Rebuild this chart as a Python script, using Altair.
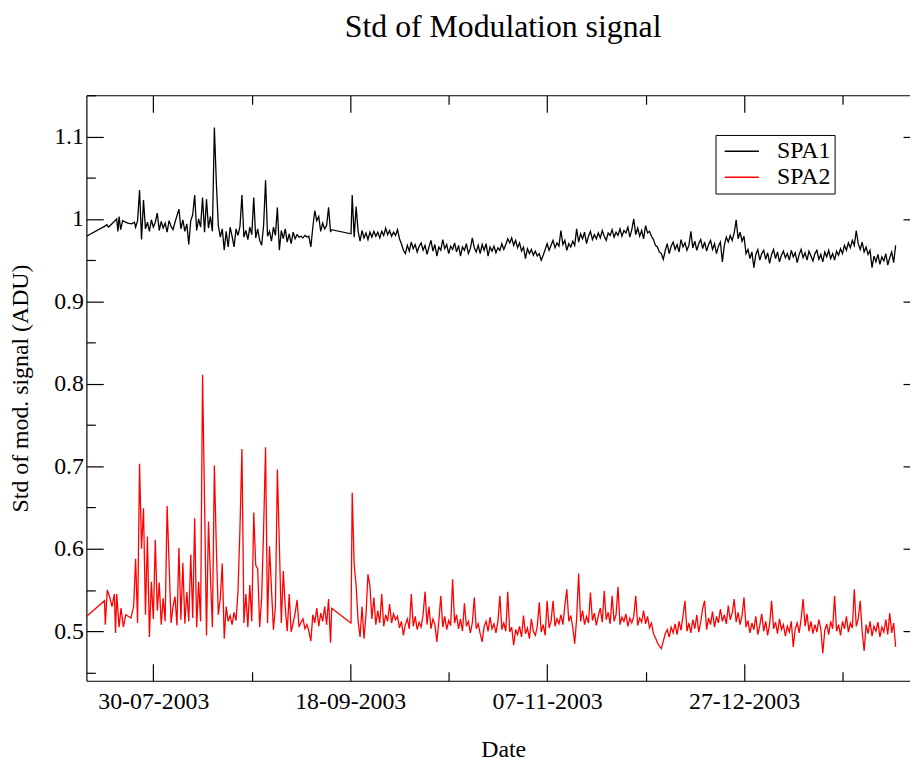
import altair as alt
import pandas as pd

FONT = "Liberation Serif"
START = pd.Timestamp("2003-07-13")
STEP = 0.5  # days between samples inside a run

# ---------------- SPA1 (black) ----------------
spa1_sparse_days = [0, 4.6, 5.2, 5.6, 7.7, 8.0, 8.3, 8.7, 9.2, 10.5, 11.5, 12.2, 62.2, 67.2]
spa1_sparse_vals = [0.979, 0.991, 0.993, 0.990, 1.000, 0.985, 1.003, 0.987, 0.998, 0.995, 0.994, 0.996, 0.987, 0.982]
spa1_run1_start = 12.5
spa1_run1 = [
    0.990, 0.998, 1.035, 0.975, 1.023, 0.988, 0.996, 0.985, 0.999, 0.990,
    0.996, 1.007, 0.986, 0.997, 0.989, 0.995, 0.984, 0.998, 0.991, 0.987,
    0.996, 1.004, 1.012, 0.988, 0.999, 0.985, 0.994, 0.969, 0.998, 1.005,
    1.029, 0.986, 1.000, 0.990, 1.026, 0.984, 1.024, 0.989, 1.003, 0.985,
    1.111, 1.044, 0.992, 0.978, 0.988, 0.962, 0.985, 0.966, 0.990, 0.979,
    0.966, 0.988, 0.980, 0.991, 1.029, 0.978, 0.986, 0.975, 0.990, 0.981,
    1.026, 0.977, 0.988, 0.974, 0.968, 0.992, 1.047, 0.979, 0.985, 0.973,
    0.990, 0.980, 1.014, 0.962, 0.986, 0.976, 0.988, 0.972, 0.982, 0.970,
    0.984, 0.976, 0.981, 0.978, 0.979, 0.977, 0.980, 0.978, 0.979, 0.966,
    0.990, 1.010, 0.998, 1.003, 0.985, 0.995, 0.988, 0.992, 1.014, 0.984,
]
spa1_run2_start = 67.5
spa1_run2 = [
    1.029, 0.978, 1.015, 0.985, 0.973, 0.986, 0.977, 0.983, 0.975, 0.984,
    0.978, 0.985, 0.979, 0.984, 0.977, 0.985, 0.980, 0.989, 0.981, 0.986,
    0.979, 0.984, 0.980, 0.987, 0.976,
    0.970, 0.962, 0.958, 0.968, 0.961, 0.972, 0.964, 0.969, 0.960, 0.967,
    0.971, 0.962, 0.968, 0.957, 0.966, 0.974, 0.961, 0.969, 0.955, 0.966,
    0.962, 0.975, 0.964, 0.969, 0.958, 0.967, 0.963, 0.971, 0.960, 0.968,
    0.955, 0.966, 0.962, 0.970, 0.958, 0.964, 0.977, 0.965, 0.960, 0.968,
    0.958, 0.969, 0.962, 0.970, 0.955, 0.966, 0.961, 0.967, 0.959, 0.965,
    0.962, 0.970, 0.963, 0.969, 0.976, 0.971, 0.977, 0.968, 0.974, 0.965,
    0.971, 0.961, 0.966, 0.952, 0.964, 0.958, 0.963, 0.956, 0.961, 0.955,
    0.958, 0.950, 0.956, 0.963, 0.970, 0.962, 0.968, 0.974, 0.965, 0.971,
    0.967, 0.986, 0.969, 0.974, 0.962, 0.970, 0.966, 0.973, 0.968, 0.988,
    0.972, 0.982, 0.976, 0.984, 0.970, 0.979, 0.985, 0.975, 0.981, 0.976,
    0.983, 0.977, 0.986, 0.979, 0.974, 0.983, 0.980, 0.987, 0.978, 0.984,
    0.980, 0.988, 0.979, 0.986, 0.983, 0.990, 0.978, 0.987, 1.000, 0.981,
    0.989, 0.979, 0.986, 0.976, 0.992, 0.983, 0.985, 0.979, 0.975, 0.968,
    0.966, 0.960, 0.958, 0.951, 0.962, 0.970, 0.958, 0.967, 0.972, 0.963,
    0.969, 0.960, 0.975, 0.966, 0.971, 0.962, 0.968, 0.985, 0.965, 0.973,
    0.962, 0.970, 0.975, 0.964, 0.972, 0.961, 0.969, 0.974, 0.963, 0.970,
    0.958, 0.967, 0.972, 0.948, 0.968, 0.978, 0.972, 0.980, 0.974, 0.983,
    0.999, 0.976, 0.984, 0.973, 0.979, 0.958, 0.963, 0.952, 0.960, 0.941,
    0.957, 0.963, 0.950, 0.958, 0.962, 0.951, 0.959, 0.946, 0.957, 0.963,
    0.952, 0.960, 0.948, 0.956, 0.961, 0.953, 0.958, 0.950, 0.962, 0.954,
    0.959, 0.947, 0.957, 0.963, 0.953, 0.959, 0.950, 0.961, 0.955, 0.949,
    0.958, 0.962, 0.951, 0.957, 0.948, 0.960, 0.954, 0.962, 0.952, 0.958,
    0.950, 0.961, 0.956, 0.964, 0.958, 0.968, 0.962, 0.971, 0.965, 0.974,
    0.968, 0.986, 0.970, 0.963, 0.972, 0.960, 0.966, 0.957, 0.962, 0.941,
    0.955, 0.948, 0.957, 0.945, 0.954, 0.949, 0.958, 0.944, 0.953, 0.960,
    0.947, 0.968,
]

# ---------------- SPA2 (red) ----------------
spa2_sparse_days = [0, 4.6, 4.8, 5.3, 6.0, 6.5, 7.1, 7.4, 7.7, 8.3, 8.8, 9.4, 10.0, 11.3, 62.3, 66.9, 67.2]
spa2_sparse_vals = [0.518, 0.537, 0.508, 0.550, 0.540, 0.530, 0.545, 0.498, 0.545, 0.505, 0.528, 0.505, 0.520, 0.516, 0.528, 0.511, 0.510]
spa2_run1_start = 12.0
spa2_run1 = [
    0.530, 0.588, 0.510, 0.703, 0.600, 0.649, 0.520, 0.615, 0.493, 0.560,
    0.515, 0.611, 0.525, 0.559, 0.508, 0.540, 0.512, 0.652, 0.582, 0.510,
    0.530, 0.542, 0.507, 0.601, 0.514, 0.583, 0.509, 0.548, 0.512, 0.593,
    0.516, 0.637, 0.505, 0.560, 0.512, 0.811, 0.659, 0.495, 0.633, 0.566,
    0.505, 0.701, 0.601, 0.520, 0.540, 0.582, 0.491, 0.530, 0.512, 0.519,
    0.508, 0.523, 0.513, 0.549, 0.625, 0.721, 0.510, 0.545, 0.505, 0.556,
    0.512, 0.644, 0.580, 0.576, 0.505, 0.540, 0.623, 0.723, 0.510, 0.603,
    0.551, 0.502, 0.530, 0.696, 0.605, 0.510, 0.573, 0.529, 0.500, 0.545,
    0.499, 0.510, 0.522, 0.538, 0.505, 0.511, 0.515, 0.503, 0.508, 0.500,
    0.488,
    0.520, 0.510, 0.528, 0.506, 0.522, 0.512, 0.530, 0.508, 0.539, 0.486,
]
spa2_run2_start = 67.5
spa2_run2 = [
    0.668, 0.581, 0.555, 0.512, 0.493, 0.530, 0.491, 0.520, 0.569, 0.555,
    0.515, 0.541, 0.508, 0.525, 0.510, 0.545, 0.506, 0.520, 0.512, 0.533,
    0.510, 0.521, 0.514, 0.518, 0.504,
    0.512, 0.495, 0.508, 0.515, 0.503, 0.545, 0.506, 0.518, 0.502, 0.511,
    0.505, 0.520, 0.548, 0.508, 0.530, 0.503, 0.515, 0.508, 0.487, 0.512,
    0.543, 0.505, 0.518, 0.502, 0.513, 0.507, 0.563, 0.510, 0.520, 0.503,
    0.515, 0.500, 0.534, 0.506, 0.512, 0.498, 0.510, 0.541, 0.503, 0.509,
    0.497, 0.487, 0.506, 0.512, 0.500, 0.517, 0.503, 0.509, 0.498, 0.512,
    0.543, 0.502, 0.510, 0.500, 0.548, 0.499, 0.505, 0.483, 0.502, 0.496,
    0.506, 0.493, 0.519, 0.497, 0.504, 0.491, 0.515, 0.500, 0.495, 0.506,
    0.535, 0.499, 0.508, 0.495, 0.537, 0.504, 0.512, 0.537, 0.506, 0.515,
    0.509, 0.520, 0.508, 0.531, 0.551, 0.512, 0.519, 0.505, 0.485, 0.516,
    0.570, 0.512, 0.525, 0.508, 0.518, 0.510, 0.547, 0.513, 0.522, 0.507,
    0.519, 0.528, 0.511, 0.549, 0.514, 0.523, 0.509, 0.543, 0.512, 0.520,
    0.554, 0.508, 0.517, 0.512, 0.521, 0.506, 0.516, 0.510, 0.518, 0.543,
    0.507, 0.516, 0.511, 0.525, 0.509, 0.518, 0.504, 0.510, 0.497, 0.492,
    0.486, 0.482, 0.479, 0.488, 0.497, 0.502, 0.493, 0.505, 0.498, 0.509,
    0.496, 0.512, 0.501, 0.519, 0.537, 0.500, 0.510, 0.498, 0.514, 0.503,
    0.520, 0.499, 0.511, 0.528, 0.537, 0.502, 0.516, 0.508, 0.524, 0.505,
    0.518, 0.510, 0.527, 0.512, 0.520, 0.509, 0.531, 0.514, 0.522, 0.539,
    0.511, 0.523, 0.508, 0.519, 0.541, 0.505, 0.513, 0.498, 0.510, 0.502,
    0.518, 0.496, 0.507, 0.521, 0.500, 0.512, 0.495, 0.509, 0.537, 0.503,
    0.511, 0.497, 0.515, 0.502, 0.508, 0.494, 0.506, 0.499, 0.512, 0.481,
    0.503, 0.510, 0.498, 0.515, 0.539, 0.506, 0.521, 0.500, 0.512, 0.497,
    0.508, 0.499, 0.514, 0.503, 0.473, 0.501, 0.509, 0.496, 0.512, 0.503,
    0.543, 0.500, 0.508, 0.495, 0.512, 0.503, 0.518, 0.499, 0.510, 0.504,
    0.551, 0.506, 0.515, 0.537, 0.500, 0.476, 0.508, 0.497, 0.512, 0.494,
    0.506, 0.500, 0.511, 0.493, 0.505, 0.499, 0.514, 0.496, 0.522, 0.498,
    0.510, 0.481,
]

series_names = ["SPA1", "SPA2"]
series_colors = ["#000000", "#ff0000"]

x_major = ["2003-07-30", "2003-09-18", "2003-11-07", "2003-12-27"]
x_minor = ["2003-08-24", "2003-10-13", "2003-12-02", "2004-01-21"]
y_major = [0.5, 0.6, 0.7, 0.8, 0.9, 1.0, 1.1]
y_minor = [0.45, 0.55, 0.65, 0.75, 0.85, 0.95, 1.05, 1.15]


def build(name, sdays, svals, runs):
    rows = list(zip(sdays, svals))
    for start, vals in runs:
        rows += [(start + STEP * i, v) for i, v in enumerate(vals)]
    rows.sort()
    return pd.DataFrame({
        "date": [START + pd.Timedelta(days=d) for d, _ in rows],
        "value": [v for _, v in rows],
        "series": name,
    })


df = pd.concat([
    build("SPA1", spa1_sparse_days, spa1_sparse_vals,
          [(spa1_run1_start, spa1_run1), (spa1_run2_start, spa1_run2)]),
    build("SPA2", spa2_sparse_days, spa2_sparse_vals,
          [(spa2_run1_start, spa2_run1), (spa2_run2_start, spa2_run2)]),
], ignore_index=True)


def dt(s):
    t = pd.Timestamp(s)
    return alt.DateTime(year=t.year, month=t.month, date=t.day)


W, H = 840, 590
FS = 24
xs = alt.Scale(domain=[alt.DateTime(year=2003, month=7, date=13),
                       alt.DateTime(year=2004, month=2, date=9, hours=16)], nice=False)
ys = alt.Scale(domain=[0.44, 1.15], nice=False, zero=False)

base = alt.Chart(df)

lines = base.mark_line(strokeWidth=1.3, clip=True).encode(
    x=alt.X("date:T", scale=xs, axis=alt.Axis(
        orient="bottom", values=[dt(v) for v in x_major], format="%d-%m-%Y",
        ticks=False, grid=False, labelFont=FONT, labelFontSize=FS, labelColor="black",
        labelPadding=9, labelFlush=False, labelOverlap=False,
        title="Date", titleFont=FONT, titleFontSize=FS, titleFontWeight="normal",
        titleColor="black", titlePadding=24, domainColor="black", domainWidth=1.2)),
    y=alt.Y("value:Q", scale=ys, axis=alt.Axis(
        orient="left", values=y_major, format="~g", ticks=False, grid=False,
        labelFont=FONT, labelFontSize=FS, labelColor="black", labelPadding=3,
        labelFlush=False, labelOverlap=False,
        title="Std of mod. signal (ADU)", titleFont=FONT, titleFontSize=FS,
        titleFontWeight="normal", titleColor="black", titlePadding=21,
        domainColor="black", domainWidth=1.2)),
    color=alt.Color("series:N", scale=alt.Scale(domain=series_names, range=series_colors),
                    legend=alt.Legend(
                        title=None, orient="none", legendX=634, legendY=40,
                        symbolType="M-1.5,0H1.5", symbolSize=529, symbolStrokeWidth=1.5,
                        symbolOffset=10, labelFont=FONT, labelFontSize=FS,
                        labelColor="black", labelOffset=23, padding=4, rowPadding=1,
                        strokeColor="black", fillColor="white")),
)


def tick_layer(xorient, xvals, yorient, yvals, size, frame):
    xa = alt.Axis(orient=xorient, offset=-H, values=[dt(v) for v in xvals], tickSize=size,
                  tickColor="black", tickWidth=1.2, labels=False, grid=False, title="",
                  domain=frame, domainColor="black", domainWidth=1.2)
    ya = alt.Axis(orient=yorient, offset=-W, values=yvals, tickSize=size,
                  tickColor="black", tickWidth=1.2, labels=False, grid=False, title="",
                  domain=frame, domainColor="black", domainWidth=1.2)
    return base.mark_line(strokeOpacity=0).encode(
        x=alt.X("date:T", scale=xs, axis=xa),
        y=alt.Y("value:Q", scale=ys, axis=ya),
    )


chart = alt.layer(
    lines,
    tick_layer("top", x_major, "right", y_major, 17, False),
    tick_layer("top", x_minor, "right", y_minor, 9, False),
    tick_layer("bottom", x_major, "left", y_major, 17, True),
    tick_layer("bottom", x_minor, "left", y_minor, 9, False),
).resolve_axis(x="independent", y="independent").properties(
    width=W, height=H,
    title=alt.Title("Std of Modulation signal", font=FONT, fontSize=32,
                    fontWeight="normal", color="black", anchor="middle", frame="group",
                    baseline="alphabetic", offset=26),
    autosize=alt.AutoSizeParams(type="none"),
    padding={"left": 79, "top": 85, "right": -10, "bottom": 84},
    background="white",
).configure_view(stroke=None)

chart.save("out.html", embed_options={"renderer": "svg", "actions": False})
